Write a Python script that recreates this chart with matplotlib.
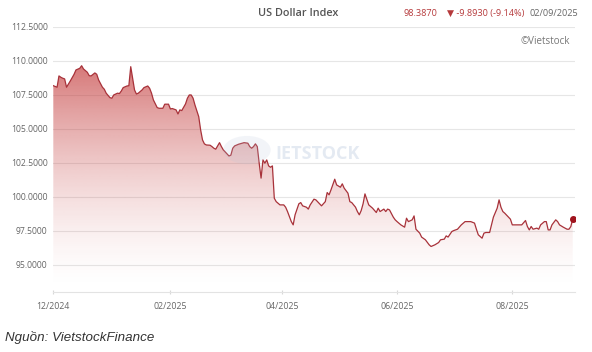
import numpy as np
import pandas as pd
import matplotlib
matplotlib.use('Agg')
import matplotlib.pyplot as plt
import matplotlib.dates as mdates
from matplotlib.patches import Circle

TITLE = 'US Dollar Index'
LAST_VALUE = '98.3870'
CHANGE = '▼ -9.8930 (-9.14%)'
LAST_DATE = '02/09/2025'
SOURCE = 'Nguồn: VietstockFinance'

dates = [
    '2024-12-01', '2024-12-03', '2024-12-04', '2024-12-05', '2024-12-06', '2024-12-07',
    '2024-12-08', '2024-12-10', '2024-12-12', '2024-12-13', '2024-12-15', '2024-12-16',
    '2024-12-17', '2024-12-19', '2024-12-20', '2024-12-21', '2024-12-23', '2024-12-24',
    '2024-12-25', '2024-12-27', '2024-12-28', '2024-12-29', '2024-12-31',
    '2025-01-01', '2025-01-02', '2025-01-04', '2025-01-05', '2025-01-06', '2025-01-07',
    '2025-01-09', '2025-01-10', '2025-01-11', '2025-01-12', '2025-01-13', '2025-01-14',
    '2025-01-15', '2025-01-17', '2025-01-18', '2025-01-20', '2025-01-21', '2025-01-22',
    '2025-01-23', '2025-01-25', '2025-01-26', '2025-01-28', '2025-01-29', '2025-01-30',
    '2025-01-31',
    '2025-02-01', '2025-02-02', '2025-02-04', '2025-02-05', '2025-02-06', '2025-02-07',
    '2025-02-09', '2025-02-10', '2025-02-11', '2025-02-12', '2025-02-13', '2025-02-14',
    '2025-02-16', '2025-02-17', '2025-02-18', '2025-02-19', '2025-02-20', '2025-02-22',
    '2025-02-23', '2025-02-24', '2025-02-25', '2025-02-27', '2025-02-28',
    '2025-03-01', '2025-03-03', '2025-03-04', '2025-03-05', '2025-03-06', '2025-03-07',
    '2025-03-09', '2025-03-11', '2025-03-12', '2025-03-14', '2025-03-15', '2025-03-16',
    '2025-03-17', '2025-03-18', '2025-03-19', '2025-03-20', '2025-03-21', '2025-03-22',
    '2025-03-23', '2025-03-24', '2025-03-25', '2025-03-26', '2025-03-27', '2025-03-28',
    '2025-03-29', '2025-03-31',
    '2025-04-02', '2025-04-03', '2025-04-04', '2025-04-06', '2025-04-07', '2025-04-08',
    '2025-04-10', '2025-04-11', '2025-04-12', '2025-04-14', '2025-04-15', '2025-04-16',
    '2025-04-18', '2025-04-19', '2025-04-21', '2025-04-22', '2025-04-24', '2025-04-25',
    '2025-04-26', '2025-04-27', '2025-04-29', '2025-04-30',
    '2025-05-02', '2025-05-03', '2025-05-04', '2025-05-06', '2025-05-07', '2025-05-08',
    '2025-05-10', '2025-05-11', '2025-05-12', '2025-05-13', '2025-05-14', '2025-05-15',
    '2025-05-17', '2025-05-18', '2025-05-19', '2025-05-21', '2025-05-22', '2025-05-23',
    '2025-05-25', '2025-05-26', '2025-05-27', '2025-05-28', '2025-05-30', '2025-05-31',
    '2025-06-01', '2025-06-03', '2025-06-05', '2025-06-06', '2025-06-07', '2025-06-09',
    '2025-06-10', '2025-06-11', '2025-06-13', '2025-06-14', '2025-06-16', '2025-06-18',
    '2025-06-19', '2025-06-21', '2025-06-23', '2025-06-24', '2025-06-26', '2025-06-27',
    '2025-06-28', '2025-06-30',
    '2025-07-01', '2025-07-03', '2025-07-05', '2025-07-07', '2025-07-09', '2025-07-10',
    '2025-07-12', '2025-07-13', '2025-07-14', '2025-07-16', '2025-07-17', '2025-07-18',
    '2025-07-20', '2025-07-21', '2025-07-22', '2025-07-24', '2025-07-25', '2025-07-26',
    '2025-07-27', '2025-07-28', '2025-07-30', '2025-07-31',
    '2025-08-01', '2025-08-03', '2025-08-05', '2025-08-06', '2025-08-08', '2025-08-09',
    '2025-08-10', '2025-08-11', '2025-08-12', '2025-08-14', '2025-08-15', '2025-08-16',
    '2025-08-18', '2025-08-19', '2025-08-20', '2025-08-21', '2025-08-22', '2025-08-24',
    '2025-08-25', '2025-08-26', '2025-08-28', '2025-08-30', '2025-08-31',
    '2025-09-01', '2025-09-02',
]

values = [
    108.18, 108.07, 108.90, 108.80, 108.73, 108.68,
    108.07, 108.53, 109.02, 109.34, 109.46, 109.65,
    109.41, 109.17, 108.92, 108.90, 109.12, 109.02,
    108.60, 108.07, 107.92, 107.63, 107.30,
    107.26, 107.50, 107.63, 107.60, 107.79, 108.04,
    108.16, 108.18, 109.58, 108.73, 107.87, 107.57,
    107.63, 107.87, 108.04, 108.16, 107.99, 107.63,
    107.13, 106.57, 106.52, 106.52, 106.82, 106.82,
    106.82,
    106.47, 106.50, 106.40, 106.10, 106.40, 106.35,
    106.84, 107.26, 107.50, 107.50, 107.26, 106.76,
    105.90, 104.93, 104.19, 103.90, 103.82, 103.80,
    103.70, 103.58, 103.51, 103.99, 103.70,
    103.46, 103.16, 103.01, 103.07, 103.58, 103.75,
    103.87, 103.95, 103.99, 103.95, 103.70, 103.58,
    103.70, 103.90, 103.70, 102.48, 101.38, 102.72,
    102.48, 102.72, 102.28, 102.18, 102.28, 99.90,
    99.65, 99.41,
    99.41, 99.24, 98.92, 98.18, 97.94, 98.68,
    99.49, 99.58, 99.34, 99.24, 99.10, 99.41,
    99.83, 99.78, 99.49, 99.34, 99.65, 100.32,
    100.15, 100.51, 101.30, 100.88,
    100.71, 100.96, 100.64, 100.27, 99.65, 99.58,
    99.24, 98.92, 98.68, 98.99, 99.49, 100.22,
    99.41, 99.29, 99.17, 98.85, 99.17, 98.92,
    99.10, 98.92, 99.10, 99.04, 98.51, 98.31,
    98.18, 97.94, 97.77, 98.43, 98.18, 98.31,
    98.60, 97.62, 97.33, 97.04, 96.84, 96.47,
    96.35, 96.47, 96.64, 96.84, 96.89, 97.13,
    97.04, 97.45,
    97.52, 97.62, 97.94, 98.18, 98.18, 98.18,
    98.07, 97.62, 97.21, 96.96, 97.33, 97.38,
    97.38, 97.94, 98.51, 99.17, 99.78, 99.24,
    98.92, 98.80, 98.51, 98.36,
    97.94, 97.94, 97.94, 97.94, 98.26, 97.82,
    97.57, 97.82, 97.62, 97.70, 97.62, 97.94,
    98.18, 98.18, 97.57, 97.57, 97.94, 98.31,
    98.18, 97.94, 97.77, 97.62, 97.62,
    97.82, 98.387,
]

y_ticks = [95, 97.5, 100, 102.5, 105, 107.5, 110, 112.5]
x_ticks = ['2024-12-01', '2025-02-01', '2025-04-01', '2025-06-01', '2025-08-01']
x_tick_labels = ['12/2024', '02/2025', '04/2025', '06/2025', '08/2025']

Y_MIN, Y_MAX = 93.0, 112.5
LINE_COLOR = '#a8323a'
FILL_RGB = (193 / 255, 50 / 255, 50 / 255)
RED_TEXT = '#b5393b'
FONT = ['Open Sans', 'DejaVu Sans']

plt.rcParams['font.family'] = FONT

fig = plt.figure(figsize=(5.92, 3.52), dpi=100)
ax = fig.add_axes([53.3 / 592, 60 / 352, (575 - 53.3) / 592, 265 / 352])

x = mdates.date2num(pd.to_datetime(dates))
y = np.array(values)

# gradient under the line
poly = ax.fill_between(x, y, Y_MIN, color='none', lw=0)
top = y.max()
levels = np.linspace(top, Y_MIN, 300)
alpha = 0.66 * np.clip((levels - Y_MIN) / (top - Y_MIN), 0, 1) ** 1.6
grad = np.zeros((300, 1, 4))
grad[:, 0, 0], grad[:, 0, 1], grad[:, 0, 2] = FILL_RGB
grad[:, 0, 3] = alpha
im = ax.imshow(grad, extent=[x[0], x[-1], Y_MIN, top], aspect='auto',
               origin='upper', zorder=1, interpolation='bilinear')
im.set_clip_path(poly.get_paths()[0], transform=ax.transData)

ax.plot(x, y, color=LINE_COLOR, lw=0.9, zorder=3)
ax.plot(x[-1], y[-1], 'o', color='#a0141e', ms=4, zorder=4)

x_left = mdates.date2num(pd.Timestamp('2024-12-01'))
x_right = mdates.date2num(pd.Timestamp('2025-09-02')) + 1.2
ax.set_xlim(x_left, x_right)
ax.set_ylim(Y_MIN, Y_MAX)

ax.set_yticks(y_ticks)
ax.set_yticklabels([f'{v:.4f}' for v in y_ticks])
ax.set_xticks(mdates.date2num(pd.to_datetime(x_ticks)))
ax.set_xticklabels(x_tick_labels)
ax.grid(axis='y', color='#e6e6e6', lw=0.8)
ax.set_axisbelow(True)
for side in ['top', 'right', 'left']:
    ax.spines[side].set_visible(False)
ax.spines['bottom'].set_color('#e3e3e3')
ax.spines['bottom'].set_linewidth(0.8)
ax.tick_params(axis='y', length=0, pad=4, labelsize=6.2, labelcolor='#666666')
ax.tick_params(axis='x', length=3, direction='inout', color='#d8d8d8', pad=6,
               labelsize=6.3, labelcolor='#666666')

# watermark
logo = Circle((247 / 592, 1 - 150 / 352), 0.04, transform=fig.transFigure,
              color='#b8c7dc', alpha=0.18, lw=0, zorder=0)
fig.patches.append(logo)
fig.text(275 / 592, 1 - 154 / 352, 'IETSTOCK', fontsize=13, fontweight='bold',
         color='#d3dcea', alpha=0.6, va='center', ha='left')

# header
fig.text(298 / 592, 1 - 13 / 352, TITLE, fontsize=7.8, fontweight='semibold',
         color='#555555', ha='center', va='center')
fig.text(403 / 592, 1 - 13 / 352, LAST_VALUE, fontsize=6.6, color=RED_TEXT,
         ha='left', va='center')
fig.text(447 / 592, 1 - 13 / 352, CHANGE, fontsize=6.6, color=RED_TEXT,
         ha='left', va='center')
fig.text(529 / 592, 1 - 13 / 352, LAST_DATE, fontsize=6.6, color='#666666',
         ha='left', va='center')
fig.text(570 / 592, 1 - 41 / 352, '©Vietstock', fontsize=7, color='#777777',
         ha='right', va='center')

fig.text(5 / 592, 1 - 338 / 352, SOURCE, fontsize=9.6, style='italic',
         color='#333333', ha='left', va='center', family='Liberation Sans')

fig.savefig('out.png', dpi=100, facecolor='white')
